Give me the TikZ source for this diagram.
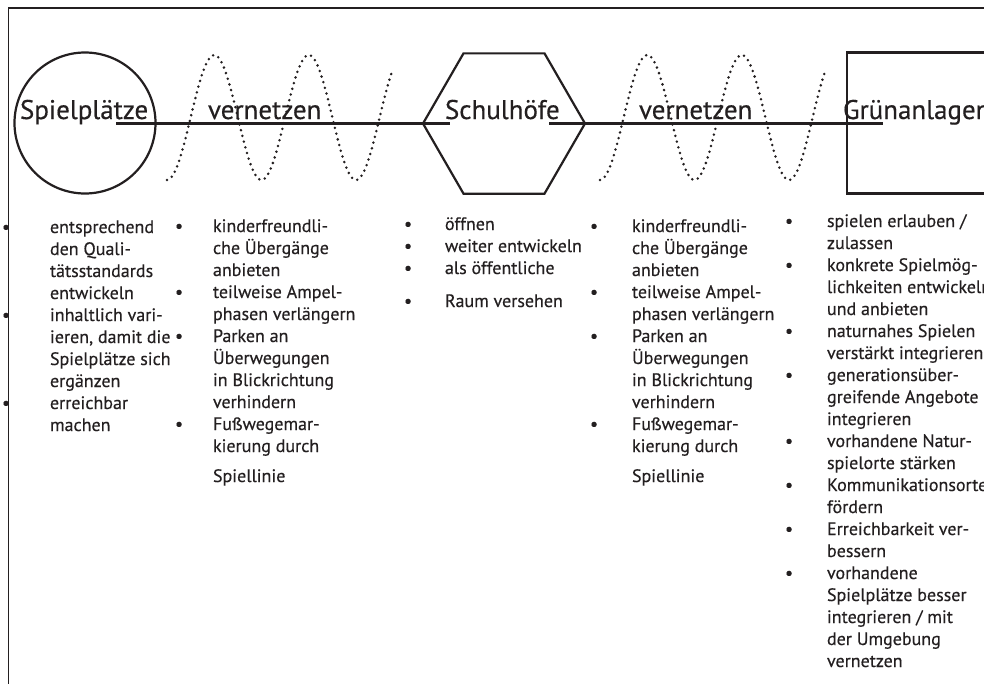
\documentclass[tikz,border=0pt]{standalone}
\usepackage{fontspec}
\setmainfont[FakeBold=0.4]{PT Sans}
\usetikzlibrary{shapes.geometric}
\definecolor{ink}{RGB}{35,31,32}
\newcommand{\bl}{\textbullet}
\newcommand{\spalte}[2]{\begin{tabular}[t]{@{}p{#1}@{}l@{}}#2\end{tabular}}

\begin{document}
\begin{tikzpicture}[x=1pt,y=-1pt,
	every node/.style={inner sep=0pt,outer sep=0pt,text=ink},
	form/.style={draw=ink,line width=2.2pt},
	linie/.style={draw=ink,line width=2.2pt},
	titel/.style={anchor=base west,font=\fontsize{27}{30}\selectfont},
	liste/.style={anchor=base west,font=\fontsize{18}{22}\selectfont},
	welle/.style={draw=ink,line width=2.8pt,line cap=round,dash pattern=on 0pt off 5.9pt}]
	\useasboundingbox (0,0) rectangle (984,683);
	\clip (0,0) rectangle (984,683);
	\draw[ink,line width=1.6pt] (8.5,700) -- (8.5,8) -- (1000,8);

	% Formen
	\node[form,circle,minimum size=141pt] (kreis) at (85,123) {};
	\node[form,regular polygon,regular polygon sides=6,minimum size=162pt] (sechseck) at (504,123.5) {};
	\node[form,rectangle,minimum size=141pt] (quadrat) at (917.5,123) {};

	% Linie
	\coordinate (anfang) at (116,123.5);
	\coordinate (ende) at (883,123.5);
	\draw[linie] (anfang) -- (sechseck.west) -- ([xshift=27pt]sechseck.west);
	\draw[linie] ([xshift=-36pt]sechseck.east) -- (sechseck.east) -- (ende);

	% Wellen
	\draw[welle] plot[domain=0:225,samples=120,smooth] ({167+\x},{117.5+62.5*cos(3.8095*\x)});
	\draw[welle] plot[domain=0:225,samples=120,smooth] ({600+\x},{117.5+62.5*cos(3.8095*\x)});

	% Titel
	\node[titel] (spielplaetze) at (20,119) {Spielplätze};
	\node[titel] (vernetzen1) at (208,119) {vernetzen};
	\node[titel] (schulhoefe) at (445,119) {Schulhöfe};
	\node[titel] (vernetzen2) at (639,119) {vernetzen};
	\node[titel] (gruen) at (843,119) {Grünanlagen};

	% Listen
	\node[liste] (s1) at (2,233) {\spalte{48pt}{%
		\bl & entsprechend\\
		& den Quali-\\
		& tätsstandards\\
		& entwickeln\\
		\bl & inhaltlich vari-\\
		& ieren, damit die\\
		& Spielplätze sich\\
		& ergänzen\\
		\bl & erreichbar\\
		& machen}};
	\node[liste] (s2) at (175,232) {\spalte{38pt}{%
		\bl & kinderfreundli-\\
		& che Übergänge\\
		& anbieten\\
		\bl & teilweise Ampel-\\
		& phasen verlängern\\
		\bl & Parken an\\
		& Überwegungen\\
		& in Blickrichtung\\
		& verhindern\\
		\bl & Fußwegemar-\\
		& kierung durch\\[8pt]
		& Spiellinie}};
	\node[liste] (s3) at (404,230) {\spalte{41pt}{%
		\bl & öffnen\\
		\bl & weiter entwickeln\\
		\bl & als öffentliche\\[11pt]
		\bl & Raum versehen}};
	\node[liste] (s4) at (590,232) {\spalte{42pt}{%
		\bl & kinderfreundli-\\
		& che Übergänge\\
		& anbieten\\
		\bl & teilweise Ampel-\\
		& phasen verlängern\\
		\bl & Parken an\\
		& Überwegungen\\
		& in Blickrichtung\\
		& verhindern\\
		\bl & Fußwegemar-\\
		& kierung durch\\[8pt]
		& Spiellinie}};
	\node[liste] (s5) at (785,227) {\spalte{42pt}{%
		\bl & spielen erlauben /\\
		& zulassen\\
		\bl & konkrete Spielmög-\\
		& lichkeiten entwickeln\\
		& und anbieten\\
		\bl & naturnahes Spielen\\
		& verstärkt integrieren\\
		\bl & generationsüber-\\
		& greifende Angebote\\
		& integrieren\\
		\bl & vorhandene Natur-\\
		& spielorte stärken\\
		\bl & Kommunikationsorte\\
		& fördern\\
		\bl & Erreichbarkeit ver-\\
		& bessern\\
		\bl & vorhandene\\
		& Spielplätze besser\\
		& integrieren / mit\\
		& der Umgebung\\
		& vernetzen}};
\end{tikzpicture}
\end{document}
